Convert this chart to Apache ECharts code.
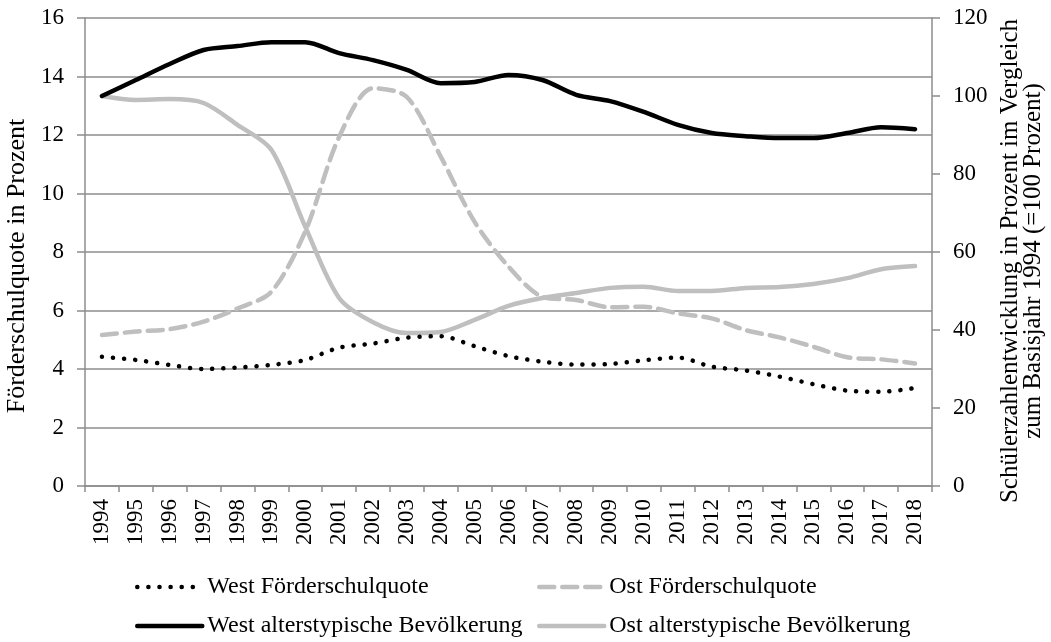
<!DOCTYPE html>
<html><head><meta charset="utf-8">
<script src="https://cdn.jsdelivr.net/npm/echarts@6/dist/echarts.min.js"></script>
<style>html,body{margin:0;padding:0;background:#fff}#c{width:1051px;height:642px}</style>
</head><body><div id="c"></div>
<script>
const years = ['1994','1995','1996','1997','1998','1999','2000','2001','2002','2003','2004','2005','2006','2007','2008','2009','2010','2011','2012','2013','2014','2015','2016','2017','2018'];
const westQuote = [4.42,4.31,4.14,4.0,4.05,4.14,4.31,4.73,4.87,5.07,5.12,4.78,4.44,4.25,4.15,4.17,4.30,4.39,4.08,3.95,3.74,3.48,3.26,3.22,3.35];
const ostQuote = [5.16,5.28,5.36,5.62,6.07,6.64,8.7,11.93,13.6,13.3,11.26,9.03,7.5,6.47,6.36,6.11,6.13,5.9,5.73,5.33,5.08,4.76,4.4,4.33,4.19];
const westBev = [100,104.1,108.2,111.8,112.8,113.8,113.8,111.0,109.2,106.7,103.3,103.6,105.4,104.1,100.3,98.7,95.9,92.6,90.5,89.7,89.2,89.2,90.5,92.0,91.5];
const ostBev = [100,99.0,99.2,98.2,92.6,86.2,66.5,48.2,42.0,39.2,39.5,42.6,46.2,48.2,49.5,50.8,51.1,50.0,50.0,50.8,51.0,51.8,53.3,55.6,56.4];
const leftTicks = {min:0,max:16,interval:2};
const rightTicks = {min:0,max:120,interval:20};
const names = ['West Förderschulquote','Ost Förderschulquote','West alterstypische Bevölkerung','Ost alterstypische Bevölkerung'];

const FONT = 'Liberation Serif';
function txt(size){ return {fontFamily: FONT, fontSize: size, color: '#000'}; }
const axisGrey = '#8c8c8c';
const styles = [
  {color:'#000', width:4.5, type:[0.1,11], cap:'round'},
  {color:'#bfbfbf', width:4.5, type:[15,8], cap:'round'},
  {color:'#000', width:4.5, type:'solid', cap:'round'},
  {color:'#bfbfbf', width:4.5, type:'solid', cap:'round'}
];
const chart = echarts.init(document.getElementById('c'), null, {renderer:'canvas'});
function legendAt(i, left, top){
  return {data:[names[i]], left:left, top:top, itemWidth:65, itemHeight:14, itemGap:6,
    textStyle:txt(24), selectedMode:false,
    lineStyle:Object.assign({}, styles[i]),
    itemStyle:{color:'rgba(0,0,0,0)', borderWidth:0, opacity:0}};
}
chart.setOption({
  animation:false,
  grid:{left:85, right:119, top:18, bottom:156, containLabel:false, outerBoundsMode:'none'},
  legend:[
    legendAt(0,130,570),
    legendAt(1,532,570),
    legendAt(2,130,609),
    legendAt(3,532,609)
  ],
  xAxis:{type:'category', data:years, boundaryGap:true,
    axisLine:{lineStyle:{color:axisGrey,width:1.5}},
    axisTick:{show:true,length:6,lineStyle:{color:axisGrey,width:1.5}},
    axisLabel:Object.assign(txt(23), {rotate:90, margin:13, interval:0})},
  yAxis:[
    {type:'value', min:leftTicks.min, max:leftTicks.max, interval:leftTicks.interval, position:'left',
     name:'Förderschulquote in Prozent', nameLocation:'middle', nameGap:50, nameRotate:90,
     nameTextStyle:Object.assign(txt(26), {padding:[0,28,0,0]}),
     axisLine:{show:true,lineStyle:{color:axisGrey,width:1.5}},
     axisTick:{show:true,length:8,lineStyle:{color:axisGrey,width:1.5}},
     axisLabel:Object.assign(txt(23), {margin:21}),
     splitLine:{show:true,lineStyle:{color:axisGrey,width:1.5}}},
    {type:'value', min:rightTicks.min, max:rightTicks.max, interval:rightTicks.interval, position:'right',
     name:'Schülerzahlentwicklung in Prozent im Vergleich\nzum Basisjahr 1994 (=100 Prozent)', nameLocation:'middle', nameGap:66, nameRotate:90,
     nameTextStyle:Object.assign(txt(25), {lineHeight:23, align:'center', padding:[0,18,0,0]}),
     axisLine:{show:true,lineStyle:{color:axisGrey,width:1.5}},
     axisTick:{show:true,length:8,lineStyle:{color:axisGrey,width:1.5}},
     axisLabel:Object.assign(txt(23), {margin:21}),
     splitLine:{show:false}}
  ],
  series:[
    {name:names[0], type:'line', yAxisIndex:0, data:westQuote, symbol:'none', smooth:0.3,
     lineStyle:styles[0], itemStyle:{color:'#000'}, z:4},
    {name:names[1], type:'line', yAxisIndex:0, data:ostQuote, symbol:'none', smooth:0.3,
     lineStyle:styles[1], itemStyle:{color:'#bfbfbf'}, z:3},
    {name:names[2], type:'line', yAxisIndex:1, data:westBev, symbol:'none', smooth:0.3,
     lineStyle:styles[2], itemStyle:{color:'#000'}, z:5},
    {name:names[3], type:'line', yAxisIndex:1, data:ostBev, symbol:'none', smooth:0.3,
     lineStyle:styles[3], itemStyle:{color:'#bfbfbf'}, z:2}
  ]
});
</script></body></html>
